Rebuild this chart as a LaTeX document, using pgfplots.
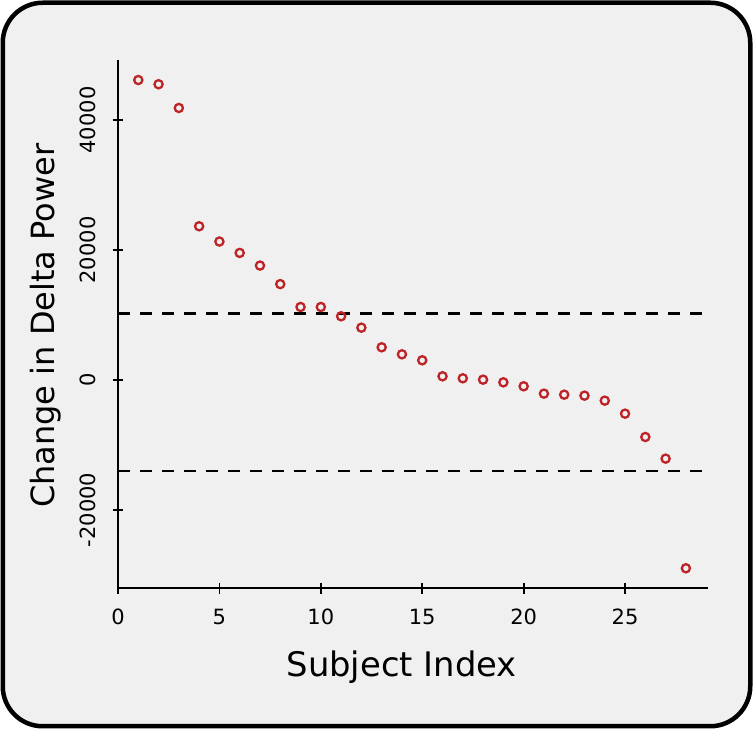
\documentclass[border=0pt]{standalone}
\usepackage{fontspec}
\setmainfont{DejaVu Sans}
\usepackage{pgfplots}
\pgfplotsset{compat=1.18}
\definecolor{bgc}{RGB}{240,240,240}
\definecolor{ptc}{RGB}{190,35,40}
\pgfplotstableread{
x y
1 46150
2 45500
3 41850
4 23650
5 21300
6 19550
7 17600
8 14750
9 11230
10 11230
11 9800
12 8050
13 5030
14 3950
15 3030
16 570
17 260
18 50
19 -360
20 -970
21 -2100
22 -2260
23 -2410
24 -3180
25 -5180
26 -8770
27 -12100
28 -28970
}\datatable
\begin{document}
\begin{tikzpicture}
\useasboundingbox (0,0) rectangle (753bp,729bp);
\draw[line width=4.5bp, fill=bgc, rounded corners=40bp] (2.75bp,2.75bp) rectangle (750.25bp,726.25bp);
\begin{axis}[
  at={(118bp,140.7bp)}, anchor=south west,
  scale only axis, width=590bp, height=528.3bp,
  xmin=0, xmax=29.09, ymin=-32050, ymax=49230,
  axis x line=bottom, axis y line=left,
  axis line style={-, line width=1.8bp, black},
  every non boxed x axis/.append style={xtick align=outside},
  every non boxed y axis/.append style={ytick align=outside},
  tickwidth=10.5bp,
  every tick/.style={draw=black, line width=1.8bp},
  scaled ticks=false,
  xtick={0,5,10,15,20,25},
  xticklabels={0,5,10,15,20,25},
  ytick={-20000,0,20000,40000},
  yticklabels={-20000,0,20000,40000},
  clip=false,
  xticklabel style={font=\fontsize{21bp}{24bp}\selectfont, anchor=north, inner sep=0pt},
  yticklabel style={font=\fontsize{21bp}{24bp}\selectfont, rotate=90, anchor=south, inner sep=0pt},
  xticklabel shift=15bp,
  yticklabel shift=17bp,
  every axis x label/.style={at={(axis description cs:0.4808,-0.1495)}, anchor=center, font=\fontsize{33.8bp}{40bp}\selectfont},
  every axis y label/.style={at={(axis description cs:-0.122,0.497)}, rotate=90, anchor=center, font=\fontsize{32bp}{40bp}\selectfont},
  xlabel={Subject Index},
  ylabel={Change in Delta Power},
]
\addplot[line width=2.1bp, black, dash pattern=on 12bp off 10bp] coordinates {(0,10230) (29.09,10230)};
\addplot[line width=2.1bp, black, dash pattern=on 12bp off 10bp] coordinates {(0,-14050) (29.09,-14050)};
\addplot[only marks, mark=o, mark size=4.1bp, mark options={line width=2.3bp, draw=ptc}] table[x=x,y=y] {\datatable};
\end{axis}
\end{tikzpicture}
\end{document}
